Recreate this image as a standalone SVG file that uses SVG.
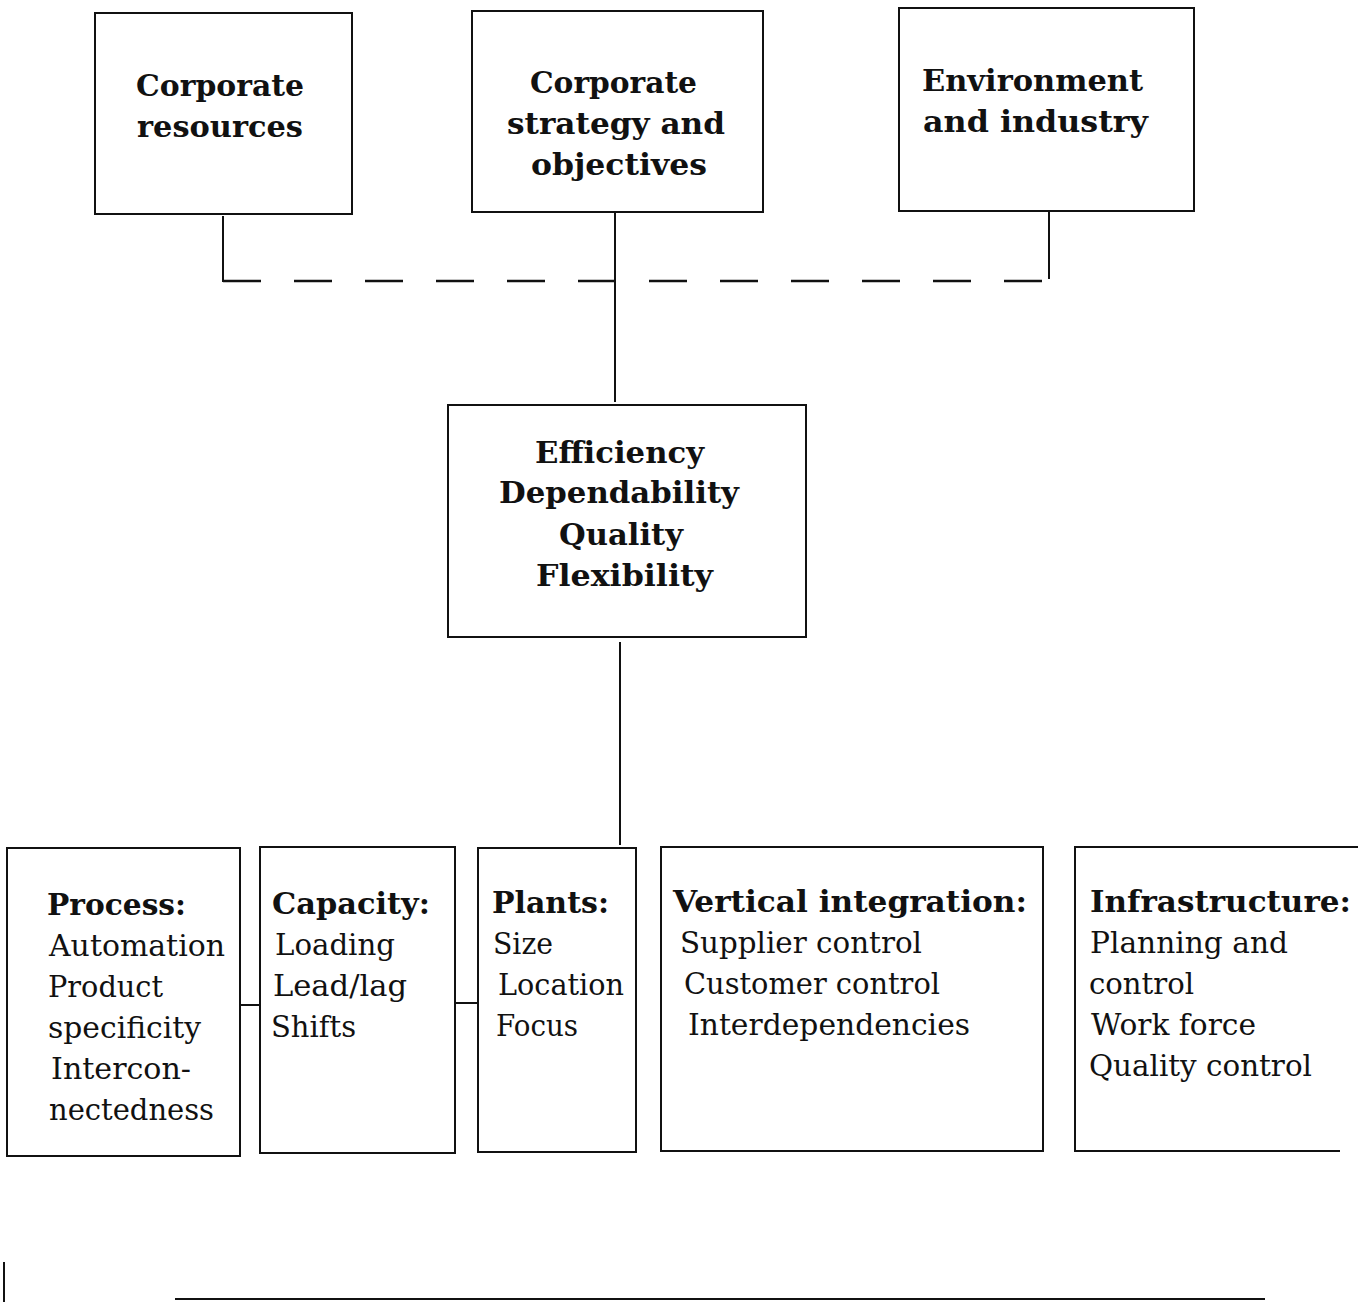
<svg xmlns="http://www.w3.org/2000/svg" width="1369" height="1302" viewBox="0 0 1369 1302">
<style>
.box{fill:none;stroke:#111;stroke-width:2}
.ln{fill:none;stroke:#111;stroke-width:2}
.dash{fill:none;stroke:#111;stroke-width:2.5;stroke-dasharray:38 33}
.b{font-family:"DejaVu Serif","Liberation Serif",serif;font-weight:bold;font-size:29px;fill:#111}
.r{font-family:"DejaVu Serif","Liberation Serif",serif;font-size:29px;fill:#111}
</style>
<rect width="1369" height="1302" fill="#fff"/>
<g id="connectors">
<path class="ln" d="M223 216 V282"/>
<path class="ln" d="M1049 212 V279"/>
<path class="dash" d="M223 281 H1049"/>
<path class="ln" d="M615 212 V402"/>
<path class="ln" d="M620 642 V845"/>
<path class="ln" d="M240 1005 H259"/>
<path class="ln" d="M455 1003 H478"/>
</g>
<g id="node-corporate-resources">
<rect class="box" x="95" y="13" width="257" height="201"/>
<text class="b" x="136" y="96" textLength="168" lengthAdjust="spacingAndGlyphs">Corporate</text>
<text class="b" x="137" y="137" textLength="166" lengthAdjust="spacingAndGlyphs">resources</text>
</g>
<g id="node-corporate-strategy">
<rect class="box" x="472" y="11" width="291" height="201"/>
<text class="b" x="530" y="93" textLength="167" lengthAdjust="spacingAndGlyphs">Corporate</text>
<text class="b" x="507" y="134" textLength="218" lengthAdjust="spacingAndGlyphs">strategy and</text>
<text class="b" x="531" y="175" textLength="176" lengthAdjust="spacingAndGlyphs">objectives</text>
</g>
<g id="node-environment">
<rect class="box" x="899" y="8" width="295" height="203"/>
<text class="b" x="922" y="91" textLength="221" lengthAdjust="spacingAndGlyphs">Environment</text>
<text class="b" x="923" y="132" textLength="225" lengthAdjust="spacingAndGlyphs">and industry</text>
</g>
<g id="node-criteria">
<rect class="box" x="448" y="405" width="358" height="232"/>
<text class="b" x="535" y="463" textLength="169" lengthAdjust="spacingAndGlyphs">Efficiency</text>
<text class="b" x="499" y="503" textLength="240" lengthAdjust="spacingAndGlyphs">Dependability</text>
<text class="b" x="559" y="545" textLength="124" lengthAdjust="spacingAndGlyphs">Quality</text>
<text class="b" x="536" y="586" textLength="177" lengthAdjust="spacingAndGlyphs">Flexibility</text>
</g>
<g id="node-process">
<rect class="box" x="7" y="848" width="233" height="308"/>
<text class="b" x="47" y="915" textLength="139" lengthAdjust="spacingAndGlyphs">Process:</text>
<text class="r" x="49" y="956" textLength="176" lengthAdjust="spacingAndGlyphs">Automation</text>
<text class="r" x="48" y="997" textLength="115" lengthAdjust="spacingAndGlyphs">Product</text>
<text class="r" x="48" y="1038" textLength="153" lengthAdjust="spacingAndGlyphs">specificity</text>
<text class="r" x="51" y="1079" textLength="140" lengthAdjust="spacingAndGlyphs">Intercon-</text>
<text class="r" x="49" y="1120" textLength="165" lengthAdjust="spacingAndGlyphs">nectedness</text>
</g>
<g id="node-capacity">
<rect class="box" x="260" y="847" width="195" height="306"/>
<text class="b" x="272" y="914" textLength="158" lengthAdjust="spacingAndGlyphs">Capacity:</text>
<text class="r" x="275" y="955" textLength="120" lengthAdjust="spacingAndGlyphs">Loading</text>
<text class="r" x="273" y="996" textLength="134" lengthAdjust="spacingAndGlyphs">Lead/lag</text>
<text class="r" x="271" y="1037" textLength="85" lengthAdjust="spacingAndGlyphs">Shifts</text>
</g>
<g id="node-plants">
<rect class="box" x="478" y="848" width="158" height="304"/>
<text class="b" x="492" y="913" textLength="117" lengthAdjust="spacingAndGlyphs">Plants:</text>
<text class="r" x="493" y="954" textLength="60" lengthAdjust="spacingAndGlyphs">Size</text>
<text class="r" x="498" y="995" textLength="126" lengthAdjust="spacingAndGlyphs">Location</text>
<text class="r" x="496" y="1036" textLength="82" lengthAdjust="spacingAndGlyphs">Focus</text>
</g>
<g id="node-vertical">
<rect class="box" x="661" y="847" width="382" height="304"/>
<text class="b" x="673" y="912" textLength="354" lengthAdjust="spacingAndGlyphs">Vertical integration:</text>
<text class="r" x="680" y="953" textLength="242" lengthAdjust="spacingAndGlyphs">Supplier control</text>
<text class="r" x="684" y="994" textLength="256" lengthAdjust="spacingAndGlyphs">Customer control</text>
<text class="r" x="688" y="1035" textLength="282" lengthAdjust="spacingAndGlyphs">Interdependencies</text>
</g>
<g id="node-infrastructure">
<path class="box" d="M1358 847 H1075 V1151 H1340"/>
<text class="b" x="1090" y="912" textLength="261" lengthAdjust="spacingAndGlyphs">Infrastructure:</text>
<text class="r" x="1090" y="953" textLength="198" lengthAdjust="spacingAndGlyphs">Planning and</text>
<text class="r" x="1089" y="994" textLength="105" lengthAdjust="spacingAndGlyphs">control</text>
<text class="r" x="1091" y="1035" textLength="165" lengthAdjust="spacingAndGlyphs">Work force</text>
<text class="r" x="1089" y="1076" textLength="223" lengthAdjust="spacingAndGlyphs">Quality control</text>
</g>
<g id="bottom-edge">
<path class="ln" d="M4 1262 V1302"/>
<path class="ln" d="M175 1299 H1265"/>
</g>
</svg>
